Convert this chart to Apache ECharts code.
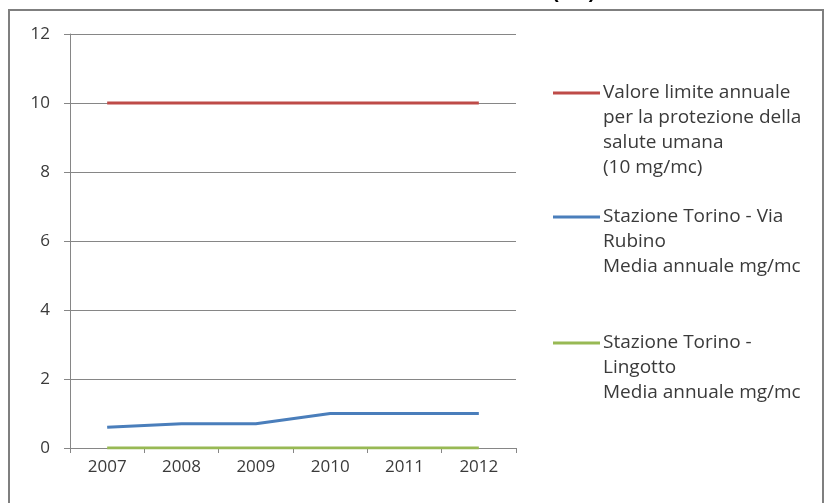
<!DOCTYPE html>
<html>
<head>
<meta charset="utf-8">
<script src="https://cdn.jsdelivr.net/npm/echarts@6/dist/echarts.min.js"></script>
<style>
  html, body { margin: 0; padding: 0; background: #ffffff; }
  #chart { width: 826px; height: 503px; }
</style>
</head>
<body>
<div id="chart"></div>
<script>
// Annual means of CO at the Turin stations against the annual limit value
const years = ['2007', '2008', '2009', '2010', '2011', '2012'];
const limitValues = [10, 10, 10, 10, 10, 10];
const rubinoValues = [0.6, 0.7, 0.7, 1.0, 1.0, 1.0];
const lingottoValues = [0, 0, 0, 0, 0, 0];

const seriesNames = [
  'Valore limite annuale\nper la protezione della\nsalute umana\n(10 mg/mc)',
  'Stazione Torino - Via\nRubino\nMedia annuale mg/mc',
  'Stazione Torino -\nLingotto\nMedia annuale mg/mc'
];
const seriesColors = ['#be4b48', '#4a7ebb', '#98b954'];
const seriesData = [limitValues, rubinoValues, lingottoValues];

const yTicks = { min: 0, max: 12, interval: 2 };

const chart = echarts.init(document.getElementById('chart'), null, { renderer: 'canvas' });

// Legend entries: a short line swatch beside wrapped text, swatch level with the first line
const legendTop = [93, 217, 343];
const legendLineHeight = 25;
const legendGraphics = [];
seriesNames.forEach((name, i) => {
  legendGraphics.push({
    type: 'line',
    shape: { x1: 553, y1: legendTop[i], x2: 600, y2: legendTop[i] },
    style: { stroke: seriesColors[i], lineWidth: 3 },
    z: 10
  });
  legendGraphics.push({
    type: 'text',
    x: 603,
    y: legendTop[i] - legendLineHeight / 2,
    style: {
      text: name,
      fill: '#3a3a3a',
      font: '19px "Open Sans", sans-serif',
      lineHeight: legendLineHeight,
      verticalAlign: 'top',
      align: 'left'
    },
    z: 10
  });
});

const labelFont = '"Open Sans", sans-serif';

const option = {
  backgroundColor: '#ffffff',
  animation: false,
  grid: { left: 70, right: 310, top: 34, bottom: 55, containLabel: false },
  xAxis: {
    type: 'category',
    data: years,
    boundaryGap: true,
    axisLine: { show: true, lineStyle: { color: '#868686', width: 1 } },
    axisTick: { show: true, length: 5, inside: false, lineStyle: { color: '#868686' } },
    axisLabel: { color: '#3a3a3a', fontSize: 17, fontFamily: labelFont, margin: 11 },
    splitLine: { show: false }
  },
  yAxis: {
    type: 'value',
    min: yTicks.min,
    max: yTicks.max,
    interval: yTicks.interval,
    axisLine: { show: true, lineStyle: { color: '#868686', width: 1 } },
    axisTick: { show: true, length: 6, lineStyle: { color: '#868686' } },
    axisLabel: { color: '#3a3a3a', fontSize: 17, fontFamily: labelFont, margin: 20 },
    splitLine: { show: true, lineStyle: { color: '#868686', width: 1 } }
  },
  series: seriesData.map((data, i) => ({
    type: 'line',
    name: seriesNames[i],
    data: data,
    showSymbol: false,
    symbol: 'none',
    lineStyle: { color: seriesColors[i], width: 3 },
    itemStyle: { color: seriesColors[i] },
    z: 3 + (2 - i)
  })),
  graphic: [
    // outer chart frame
    {
      type: 'rect',
      shape: { x: 9, y: 10, width: 814, height: 500 },
      style: { fill: 'none', stroke: '#7f7f7f', lineWidth: 2 },
      z: 1
    },
    // lower edge of the title above the frame
    {
      type: 'text',
      x: 552,
      y: 2,
      style: {
        text: '(CO)',
        fill: '#000000',
        font: 'bold 20px "Liberation Sans", Arial, sans-serif',
        verticalAlign: 'bottom',
        align: 'left'
      },
      z: 1
    }
  ].concat(legendGraphics)
};

chart.setOption(option);
</script>
</body>
</html>
